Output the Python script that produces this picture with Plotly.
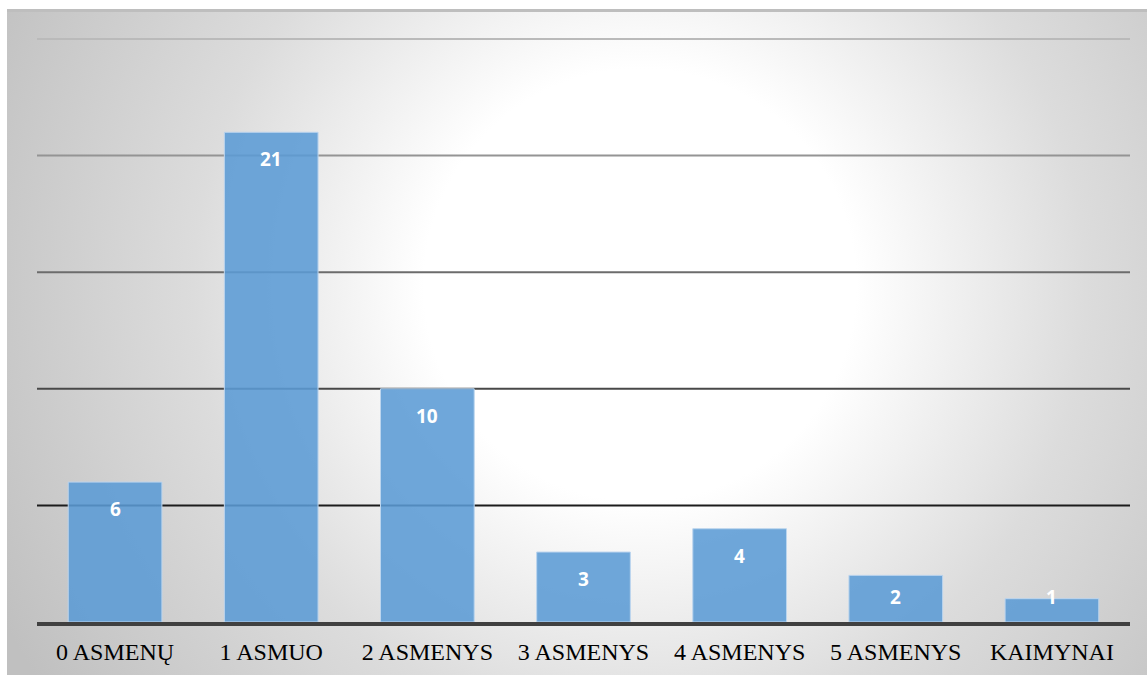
import base64
import plotly.graph_objects as go

# Household composition: number of people counted per category
categories = ["0 ASMENŲ", "1 ASMUO", "2 ASMENYS", "3 ASMENYS", "4 ASMENYS", "5 ASMENYS", "KAIMYNAI"]
counts = [6, 21, 10, 3, 4, 2, 1]
grid_values = [5, 10, 15, 20, 25]
grid_colors = ["#1c1c1c", "#484848", "#6c6c6c", "#949494", "#bababa"]

W, H = 1147, 675
M_L, M_R, M_T, M_B = 37, 17, 39, 53
plot_w = W - M_L - M_R
plot_h = H - M_T - M_B
y_max = 25

# Soft radial background of the chart panel
bg_x0, bg_y0 = 7, 9
bg_w, bg_h = W - bg_x0, H - bg_y0
svg = f'''<svg xmlns="http://www.w3.org/2000/svg" width="{bg_w}" height="{bg_h}">
<defs><radialGradient id="g" gradientUnits="userSpaceOnUse" cx="{640 - bg_x0}" cy="{285 - bg_y0}" r="720">
<stop offset="0" stop-color="#ffffff"/>
<stop offset="0.30" stop-color="#ffffff"/>
<stop offset="0.62" stop-color="#dcdcdc"/>
<stop offset="1" stop-color="#c0c0c0"/>
</radialGradient></defs>
<rect width="{bg_w}" height="{bg_h}" fill="url(#g)"/>
<rect width="{bg_w}" height="3" fill="#bebebe"/>
</svg>'''
bg_src = "data:image/svg+xml;base64," + base64.b64encode(svg.encode()).decode()

fig = go.Figure()
fig.add_trace(go.Bar(
    x=categories, y=counts,
    marker=dict(color="rgba(91,155,213,0.88)", line=dict(color="#bcd5ee", width=1)),
    width=0.6,
    hoverinfo="skip",
))

# Value labels near the top of each bar
px_per_unit = plot_h / y_max
for cat, v in zip(categories, counts):
    h_px = v * px_per_unit
    shift = min(27, h_px - 25)
    fig.add_annotation(
        x=cat, y=v, xref="x", yref="y", text=f"<b>{v}</b>", showarrow=False,
        yanchor="middle", yshift=-shift,
        font=dict(family="Open Sans, Calibri, sans-serif", size=19, color="white"),
    )

# Horizontal gridlines, darkening towards the baseline
shapes = []
for gv, gc in zip(grid_values, grid_colors):
    shapes.append(dict(type="line", xref="paper", yref="paper", x0=0, x1=1,
                       y0=gv / y_max, y1=gv / y_max,
                       line=dict(color=gc, width=2), layer="below"))

fig.update_layout(
    width=W, height=H,
    margin=dict(l=M_L, r=M_R, t=M_T, b=M_B, autoexpand=False),
    paper_bgcolor="white", plot_bgcolor="rgba(0,0,0,0)",
    showlegend=False,
    shapes=shapes,
    images=[dict(
        source=bg_src, xref="paper", yref="paper",
        x=(bg_x0 - M_L) / plot_w, y=(H - M_B - bg_y0) / plot_h,
        sizex=bg_w / plot_w, sizey=bg_h / plot_h,
        xanchor="left", yanchor="top", sizing="stretch", layer="below",
    )],
    xaxis=dict(showgrid=False, showline=True, linecolor="#404040", linewidth=4,
               ticks="", zeroline=False, automargin=False,
               tickfont=dict(family="Liberation Serif, Times New Roman, serif", size=24, color="black"),
               ticklabelstandoff=5, fixedrange=True),
    yaxis=dict(range=[0, y_max], showgrid=False, zeroline=False, showticklabels=False,
               showline=False, ticks="", fixedrange=True, automargin=False),
)

fig.write_html("out.html", config={"displayModeBar": False})
